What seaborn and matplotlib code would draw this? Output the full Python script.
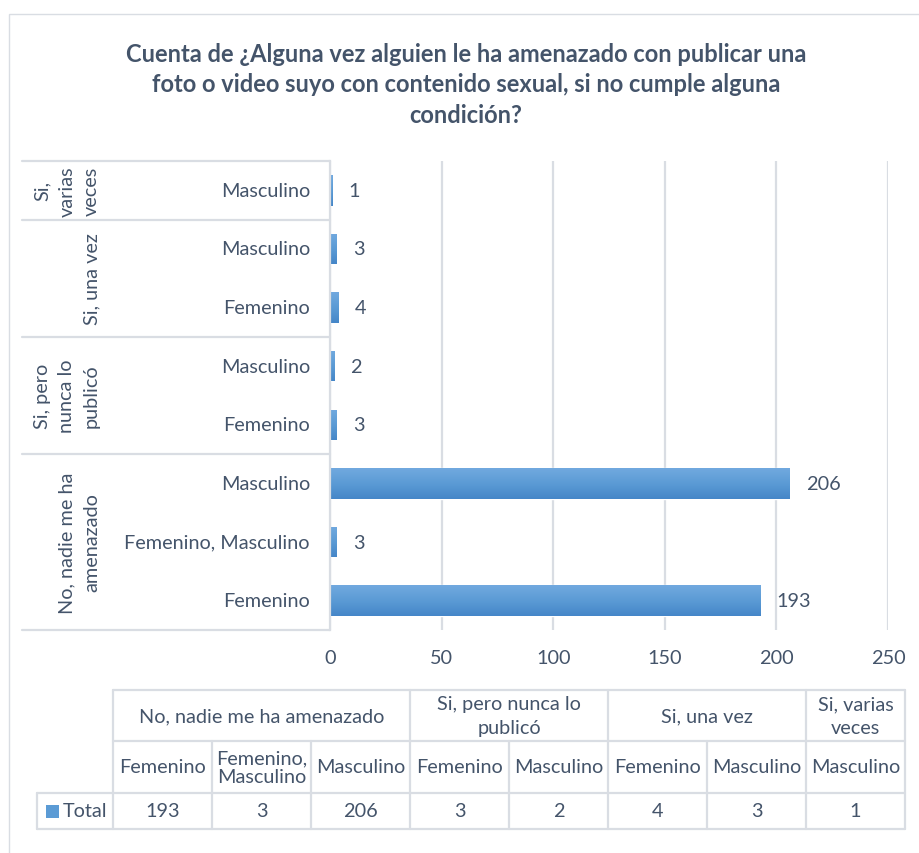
import numpy as np
import pandas as pd
import matplotlib.pyplot as plt
import matplotlib.transforms as mtransforms
from matplotlib.lines import Line2D
from matplotlib.patches import Rectangle
from matplotlib.colors import LinearSegmentedColormap
import seaborn as sns

# Estilo blanco, fuente parecida a Calibri
sns.set_style("white")
plt.rcParams['font.family'] = ['Lato', 'DejaVu Sans']

# Datos (orden de la tabla)
grupos = ["No, nadie me ha amenazado", "No, nadie me ha amenazado", "No, nadie me ha amenazado",
          "Si, pero nunca lo publicó", "Si, pero nunca lo publicó",
          "Si, una vez", "Si, una vez", "Si, varias veces"]
sexo = ["Femenino", "Femenino, Masculino", "Masculino", "Femenino", "Masculino",
        "Femenino", "Masculino", "Masculino"]
totales = [193, 3, 206, 3, 2, 4, 3, 1]

titulo = ("Cuenta de ¿Alguna vez alguien le ha amenazado con publicar una\n"
          "foto o video suyo con contenido sexual, si no cumple alguna\n"
          "condición?")
# etiquetas con saltos de linea como en el grafico
eje_grupos = {"No, nadie me ha amenazado": "No, nadie me ha\namenazado",
              "Si, pero nunca lo publicó": "Si, pero\nnunca lo\npublicó",
              "Si, una vez": "Si, una vez",
              "Si, varias veces": "Si,\nvarias\nveces"}
tabla_grupos = {"No, nadie me ha amenazado": "No, nadie me ha amenazado",
                "Si, pero nunca lo publicó": "Si, pero nunca lo\npublicó",
                "Si, una vez": "Si, una vez",
                "Si, varias veces": "Si, varias\nveces"}
tabla_sexo = {"Femenino": "Femenino", "Masculino": "Masculino",
              "Femenino, Masculino": "Femenino,\nMasculino"}

AZUL = "#5B9BD5"
TEXTO = "#44546A"
LINEA = "#D9DDE3"
FS = 14.3

df = pd.DataFrame({"grupo": grupos, "sexo": sexo, "total": totales})
df["clave"] = df["grupo"] + " | " + df["sexo"]
orden = list(df["clave"][::-1])
valores = df.set_index("clave")["total"]

W, H = 920, 854
def fx(px):
    return px / W
def fy(py):
    return 1 - py / H

fig = plt.figure(figsize=(9.2, 8.54), dpi=100)

# borde exterior del grafico
fig.add_artist(Rectangle((fx(9), fy(856)), fx(930) - fx(9), fy(15) - fy(856),
                         transform=fig.transFigure, fill=False, edgecolor=LINEA, lw=1))

fig.text(fx(466), fy(85), titulo, ha='center', va='center', fontsize=17,
         fontweight='bold', color=TEXTO, linespacing=1.42)

ax = fig.add_axes([fx(330), fy(631), fx(888) - fx(330), fy(162) - fy(631)])
sns.barplot(data=df, x="total", y="clave", order=orden, color=AZUL, saturation=1,
            width=0.52, orient='h', ax=ax)

# degradado vertical en las barras, como en Excel
degradado = LinearSegmentedColormap.from_list("azul", ["#4586C8", "#5B9BD5", "#71A9DF"])
for barra in ax.patches:
    x, y = barra.get_x(), barra.get_y()
    w, h = barra.get_width(), barra.get_height()
    img = ax.imshow(np.linspace(0, 1, 64).reshape(-1, 1), cmap=degradado, aspect='auto',
                    extent=(x, x + w, y + h, y), origin='lower', zorder=barra.get_zorder())
    img.set_clip_path(barra)
    barra.set_facecolor("none")

ax.set_xlim(0, 250)
ax.set_ylim(len(orden) - 0.5, -0.5)
ax.set_xticks([0, 50, 100, 150, 200, 250])
ax.set_yticks([])
ax.set_xlabel("")
ax.set_ylabel("")
ax.grid(axis='x', color=LINEA, lw=1.6)
ax.set_axisbelow(True)
for s in ["top", "right", "bottom"]:
    ax.spines[s].set_visible(False)
ax.spines["left"].set_color(LINEA)
ax.spines["left"].set_linewidth(1.6)
ax.tick_params(axis='x', length=0, pad=14, labelsize=FS, labelcolor=TEXTO)

# etiquetas de valor
for i, clave in enumerate(orden):
    v = valores[clave]
    ax.annotate(str(v), xy=(v, i), xytext=(16, 0), textcoords='offset pixels',
                ha='left', va='center', fontsize=FS, color=TEXTO)

# eje de categorias jerarquico
blend = mtransforms.blended_transform_factory(fig.transFigure, ax.transData)
for i, clave in enumerate(orden):
    ax.text(fx(310), i, clave.split(" | ")[1], transform=blend, ha='right', va='center',
            fontsize=FS, color=TEXTO)

cortes = [-0.5]
for g in pd.unique(pd.Series([c.split(" | ")[0] for c in orden])):
    idx = [i for i, c in enumerate(orden) if c.split(" | ")[0] == g]
    cortes.append(max(idx) + 0.5)
    ax.text(fx(100), (min(idx) + max(idx)) / 2, eje_grupos[g], transform=blend,
            rotation=90, ha='right', va='center', multialignment='center',
            fontsize=FS, color=TEXTO, linespacing=1.55)
for c in cortes:
    ax.add_line(Line2D([fx(22), fx(330)], [c, c], transform=blend, color=LINEA,
                       lw=1.6, clip_on=False))

# tabla de datos
x0, ancho = 113, 99
y_filas = [691, 742, 794, 830]
bordes = [x0 + ancho * k for k in range(len(totales) + 1)]

def linea(xa, ya, xb, yb):
    fig.add_artist(Line2D([fx(xa), fx(xb)], [fy(ya), fy(yb)], transform=fig.transFigure,
                          color=LINEA, lw=1.6))

linea(bordes[0], y_filas[0], bordes[-1], y_filas[0])
linea(bordes[0], y_filas[1], bordes[-1], y_filas[1])
linea(37, y_filas[2], bordes[-1], y_filas[2])
linea(37, y_filas[3], bordes[-1], y_filas[3])
linea(37, y_filas[2], 37, y_filas[3])
linea(bordes[0], y_filas[0], bordes[0], y_filas[3])
linea(bordes[-1], y_filas[0], bordes[-1], y_filas[3])
for k in range(1, len(totales)):
    arriba = y_filas[0] if grupos[k] != grupos[k - 1] else y_filas[1]
    linea(bordes[k], arriba, bordes[k], y_filas[3])

for g in pd.unique(pd.Series(grupos)):
    idx = [k for k, gg in enumerate(grupos) if gg == g]
    xc = (bordes[min(idx)] + bordes[max(idx) + 1]) / 2
    fig.text(fx(xc), fy((y_filas[0] + y_filas[1]) / 2), tabla_grupos[g], ha='center',
             va='center', fontsize=FS, color=TEXTO, linespacing=1.45)
for k in range(len(totales)):
    xc = (bordes[k] + bordes[k + 1]) / 2
    fig.text(fx(xc), fy((y_filas[1] + y_filas[2]) / 2), tabla_sexo[sexo[k]], ha='center',
             va='center', fontsize=FS, color=TEXTO, linespacing=1.15)
    fig.text(fx(xc), fy((y_filas[2] + y_filas[3]) / 2), str(totales[k]), ha='center',
             va='center', fontsize=FS, color=TEXTO)

fig.add_artist(Rectangle((fx(46), fy(819)), fx(59) - fx(46), fy(806) - fy(819),
                         transform=fig.transFigure, color=AZUL, lw=0))
fig.text(fx(63), fy(812), "Total", ha='left', va='center', fontsize=FS, color=TEXTO)

fig.savefig("out.png", dpi=100)
